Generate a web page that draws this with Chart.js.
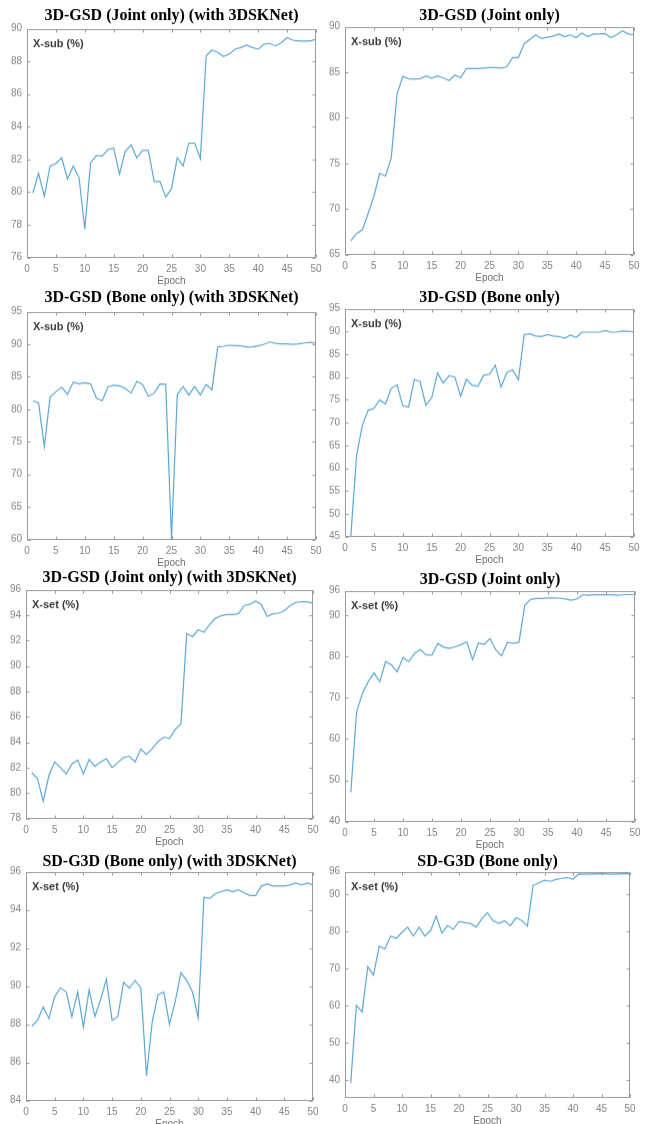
<!DOCTYPE html>
<html>
<head>
<meta charset="utf-8">
<script src="https://cdn.jsdelivr.net/npm/chart.js@4.4.1/dist/chart.umd.min.js"></script>
<style>
  body { margin: 0; background: #fff; width: 646px; height: 1124px; position: relative; overflow: hidden; }
  .panel { position: absolute; }
</style>
</head>
<body>
<script>
// ---- data ----
const epochs = Array.from({ length: 50 }, (_, i) => i + 1);
const xTicks = [0, 5, 10, 15, 20, 25, 30, 35, 40, 45, 50];

const jointSubSk = [79.95, 81.15, 79.75, 81.6, 81.75, 82.1, 80.8, 81.6, 80.9, 77.75,
  81.8, 82.25, 82.2, 82.6, 82.7, 81.1, 82.5, 82.9, 82.1, 82.55,
  82.55, 80.65, 80.65, 79.7, 80.2, 82.1, 81.6, 83.0, 83.0, 82.05,
  88.35, 88.7, 88.55, 88.3, 88.45, 88.75, 88.85, 89.0, 88.85, 88.75,
  89.05, 89.1, 88.95, 89.15, 89.45, 89.3, 89.25, 89.25, 89.25, 89.35];
const jointSub = [66.5, 67.3, 67.7, 69.5, 71.4, 73.9, 73.6, 75.6, 82.6, 84.55,
  84.3, 84.25, 84.3, 84.6, 84.35, 84.6, 84.4, 84.1, 84.7, 84.4,
  85.4, 85.4, 85.4, 85.45, 85.5, 85.5, 85.45, 85.6, 86.6, 86.6,
  88.15, 88.6, 89.1, 88.7, 88.85, 88.95, 89.2, 88.9, 89.1, 88.8,
  89.3, 88.9, 89.2, 89.2, 89.25, 88.8, 89.1, 89.55, 89.2, 89.1];
const boneSubSk = [81.3, 81.0, 74.3, 81.9, 82.7, 83.4, 82.3, 84.2, 83.9, 84.1,
  83.9, 81.75, 81.3, 83.45, 83.7, 83.6, 83.2, 82.5, 84.3, 83.8,
  82.0, 82.5, 83.9, 83.85, 60.1, 82.25, 83.5, 82.2, 83.5, 82.2,
  83.8, 83.0, 89.6, 89.7, 89.85, 89.8, 89.75, 89.55, 89.6, 89.75,
  90.0, 90.35, 90.15, 90.05, 90.05, 90.0, 90.05, 90.2, 90.3, 90.15];
const boneSub = [45.0, 62.8, 69.4, 72.7, 73.1, 75.0, 74.1, 77.5, 78.3, 73.7,
  73.4, 79.5, 79.0, 73.8, 75.4, 80.9, 78.7, 80.3, 80.0, 75.8,
  79.5, 78.2, 78.0, 80.4, 80.6, 82.6, 77.8, 81.0, 81.6, 79.4,
  89.3, 89.5, 89.0, 88.9, 89.3, 89.0, 88.9, 88.5, 89.2, 88.7,
  89.85, 89.85, 89.85, 89.85, 90.2, 89.85, 89.85, 90.1, 90.05, 89.95];
const jointSetSk = [81.6, 81.15, 79.35, 81.4, 82.45, 82.0, 81.5, 82.3, 82.6, 81.5,
  82.65, 82.1, 82.45, 82.7, 82.0, 82.4, 82.8, 82.9, 82.45, 83.45,
  83.05, 83.5, 84.05, 84.4, 84.3, 85.0, 85.45, 92.55, 92.3, 92.85,
  92.65, 93.25, 93.75, 93.95, 94.05, 94.05, 94.1, 94.75, 94.85, 95.1,
  94.85, 93.9, 94.1, 94.15, 94.35, 94.75, 95.0, 95.05, 95.05, 94.95];
const jointSet = [47.1, 66.6, 71.1, 73.9, 76.1, 73.9, 78.8, 78.0, 76.3, 79.8,
  78.8, 80.8, 81.7, 80.4, 80.4, 83.2, 82.3, 82.0, 82.4, 82.9,
  83.6, 79.3, 83.3, 83.0, 84.4, 81.6, 80.2, 83.5, 83.2, 83.5,
  92.5, 93.85, 94.1, 94.1, 94.25, 94.25, 94.2, 94.0, 93.7, 94.0,
  95.05, 94.9, 95.0, 95.0, 95.0, 95.0, 94.9, 95.05, 95.05, 95.05];
const boneSetSk = [87.9, 88.2, 88.9, 88.3, 89.45, 89.9, 89.7, 88.4, 89.7, 87.85,
  89.8, 88.4, 89.3, 90.35, 88.2, 88.4, 90.2, 89.9, 90.3, 89.9,
  85.3, 88.15, 89.55, 89.7, 88.0, 89.2, 90.7, 90.3, 89.7, 88.35,
  94.65, 94.6, 94.85, 94.95, 95.05, 94.95, 95.05, 94.9, 94.75, 94.75,
  95.25, 95.35, 95.25, 95.25, 95.25, 95.3, 95.4, 95.3, 95.4, 95.3];
const boneSet = [39.2, 60.1, 58.3, 70.5, 68.2, 76.0, 75.2, 78.7, 78.1, 79.7,
  81.1, 78.7, 81.1, 78.7, 80.1, 84.0, 79.5, 81.5, 80.5, 82.6,
  82.3, 82.1, 81.1, 83.3, 85.0, 82.8, 82.1, 82.8, 81.5, 83.6,
  82.9, 81.4, 92.3, 93.0, 93.7, 93.4, 93.9, 94.2, 94.4, 94.0,
  95.4, 95.3, 95.4, 95.4, 95.5, 95.4, 95.3, 95.4, 95.5, 95.4];

const ticksA = [76, 78, 80, 82, 84, 86, 88, 90];
const ticksB = [65, 70, 75, 80, 85, 90];
const ticksC = [60, 65, 70, 75, 80, 85, 90, 95];
const ticksD = [45, 50, 55, 60, 65, 70, 75, 80, 85, 90, 95];
const ticksE = [78, 80, 82, 84, 86, 88, 90, 92, 94, 96];
const ticksF = [40, 50, 60, 70, 80, 90, 96];
const ticksG = [84, 86, 88, 90, 92, 94, 96];

// ---- panels: text, data, and where the plot box sits on the page ----
const panels = [
  { title: '3D-GSD (Joint only) (with 3DSKNet)', tag: 'X-sub (%)', data: jointSubSk, min: 76, max: 90, ticks: ticksA, l: 27, r: 316, t: 29, b: 257, tm: 16 },
  { title: '3D-GSD (Joint only)', tag: 'X-sub (%)', data: jointSub, min: 65, max: 90, ticks: ticksB, l: 345, r: 634, t: 27, b: 254, tm: 16 },
  { title: '3D-GSD (Bone only) (with 3DSKNet)', tag: 'X-sub (%)', data: boneSubSk, min: 60, max: 95, ticks: ticksC, l: 27, r: 316, t: 312, b: 539, tm: 298 },
  { title: '3D-GSD (Bone only)', tag: 'X-sub (%)', data: boneSub, min: 45, max: 95, ticks: ticksD, l: 345, r: 634, t: 309, b: 536, tm: 298 },
  { title: '3D-GSD (Joint only) (with 3DSKNet)', tag: 'X-set (%)', data: jointSetSk, min: 78, max: 96, ticks: ticksE, l: 26, r: 313, t: 590, b: 818, tm: 578 },
  { title: '3D-GSD (Joint only)', tag: 'X-set (%)', data: jointSet, min: 40, max: 96, ticks: ticksF, l: 345, r: 635, t: 591, b: 821, tm: 580 },
  { title: 'SD-G3D (Bone only) (with 3DSKNet)', tag: 'X-set (%)', data: boneSetSk, min: 84, max: 96, ticks: ticksG, l: 26, r: 313, t: 872, b: 1100, tm: 862 },
  { title: 'SD-G3D (Bone only)', tag: 'X-set (%)', data: boneSet, min: 35.3, max: 96, ticks: ticksF, l: 345, r: 630, t: 872, b: 1097, tm: 862 }
];

const Y_W = 24, X_H = 30, TITLE_SIZE = 16, TITLE_LH = TITLE_SIZE * 1.2;
const tickColor = '#858585';
const frameColor = '#9a9a9a';
const sansFont = '"Liberation Sans", Arial, sans-serif';

// MATLAB-like box with inward ticks
const framePlugin = {
  id: 'frame',
  afterDraw(chart) {
    const { ctx, chartArea: a, scales } = chart;
    const L = Math.round(a.left) + 0.5, R = Math.round(a.right) - 0.5;
    const T = Math.round(a.top) + 0.5, B = Math.round(a.bottom) - 0.5;
    ctx.save();
    ctx.strokeStyle = frameColor;
    ctx.lineWidth = 1;
    ctx.strokeRect(L, T, R - L, B - T);
    ctx.beginPath();
    scales.x.ticks.forEach(tk => {
      const px = Math.round(scales.x.getPixelForValue(tk.value)) + 0.5;
      ctx.moveTo(px, B); ctx.lineTo(px, B - 3);
      ctx.moveTo(px, T); ctx.lineTo(px, T + 3);
    });
    scales.y.ticks.forEach(tk => {
      const py = Math.round(scales.y.getPixelForValue(tk.value)) + 0.5;
      ctx.moveTo(L, py); ctx.lineTo(L + 3, py);
      ctx.moveTo(R, py); ctx.lineTo(R - 3, py);
    });
    ctx.stroke();
    // label inside the plot
    const tag = chart.options.plugins.frame.tag;
    ctx.fillStyle = '#3a3a3a';
    ctx.font = 'bold 11px ' + sansFont;
    ctx.textBaseline = 'middle';
    ctx.fillText(tag, a.left + 6, a.top + 15);
    ctx.restore();
  }
};

panels.forEach(p => {
  const top = p.tm - TITLE_LH / 2;
  const div = document.createElement('div');
  div.className = 'panel';
  div.style.left = (p.l - Y_W) + 'px';
  div.style.top = top + 'px';
  div.style.width = (p.r - p.l + 2 * Y_W) + 'px';
  div.style.height = (p.b - top + X_H) + 'px';
  const canvas = document.createElement('canvas');
  div.appendChild(canvas);
  document.body.appendChild(div);

  new Chart(canvas, {
    type: 'line',
    data: {
      datasets: [{
        data: epochs.map((e, i) => ({ x: e, y: p.data[i] })),
        borderColor: '#5aa8d4',
        borderWidth: 1.2,
        pointRadius: 0,
        tension: 0,
        fill: false
      }]
    },
    options: {
      animation: false,
      responsive: true,
      maintainAspectRatio: false,
      layout: { padding: 0 },
      plugins: {
        legend: { display: false },
        tooltip: { enabled: false },
        title: {
          display: true,
          text: p.title,
          color: '#000',
          font: { family: '"Times New Roman", "Liberation Serif", serif', size: TITLE_SIZE, weight: 'bold', lineHeight: 1.2 },
          padding: { top: 0, bottom: p.t - p.tm - TITLE_LH / 2 }
        },
        frame: { tag: p.tag }
      },
      scales: {
        x: {
          type: 'linear',
          min: 0,
          max: 50,
          afterBuildTicks: s => { s.ticks = xTicks.map(v => ({ value: v })); },
          afterFit: s => { s.height = X_H; },
          grid: { display: false, drawTicks: false },
          border: { display: false },
          ticks: { color: tickColor, padding: 6, maxRotation: 0, font: { family: sansFont, size: 10 } },
          title: { display: true, text: 'Epoch', color: '#707070', padding: { top: 0, bottom: 0 }, font: { family: sansFont, size: 10 } }
        },
        y: {
          min: p.min,
          max: p.max,
          afterBuildTicks: s => { s.ticks = p.ticks.map(v => ({ value: v })); },
          afterFit: s => { s.width = Y_W; },
          grid: { display: false, drawTicks: false },
          border: { display: false },
          ticks: { color: tickColor, padding: 5, font: { family: sansFont, size: 10 } }
        },
        // empty right-hand strip so the title centres over the plot box
        yPad: {
          position: 'right',
          afterFit: s => { s.width = Y_W; },
          grid: { display: false, drawTicks: false },
          border: { display: false },
          ticks: { display: false }
        }
      }
    },
    plugins: [framePlugin]
  });
});
</script>
</body>
</html>
